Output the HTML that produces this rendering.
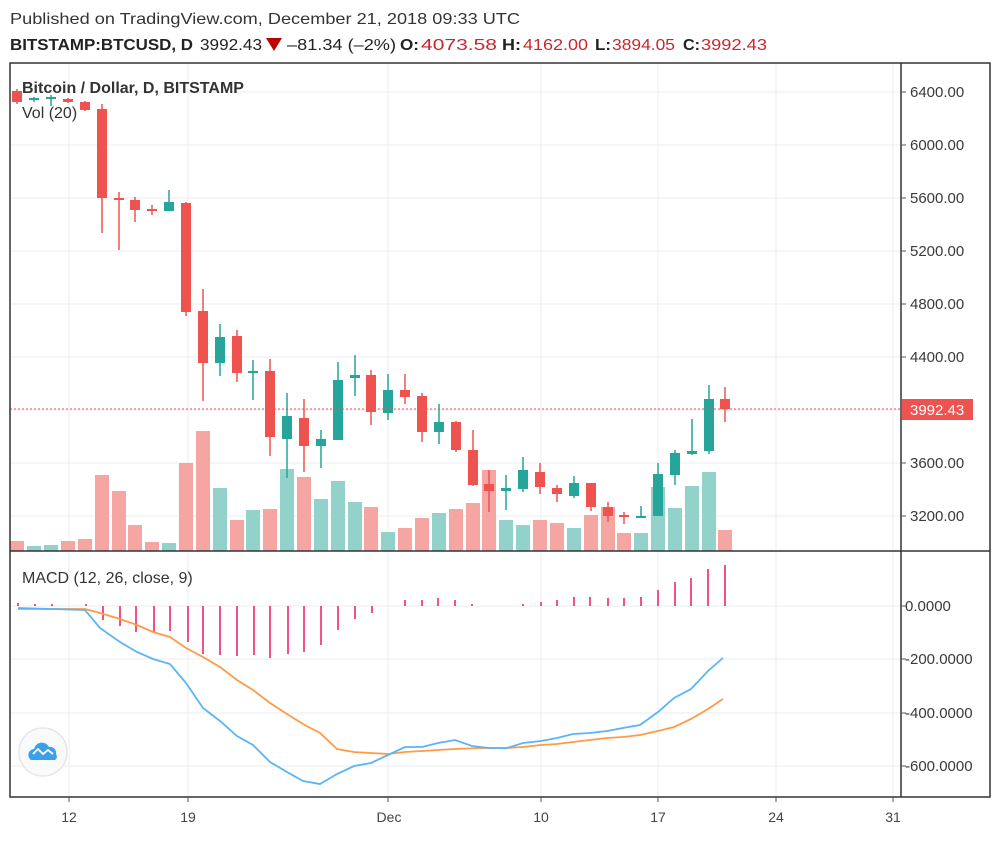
<!DOCTYPE html>
<html><head><meta charset="utf-8"><style>
html,body{margin:0;padding:0;background:#fff;}
svg{display:block;font-family:"Liberation Sans",sans-serif;}
</style></head><body>
<svg width="1000" height="844" viewBox="0 0 1000 844" xmlns="http://www.w3.org/2000/svg">
<rect width="1000" height="844" fill="#fff"/>
<text x="10" y="24" font-size="16" fill="#333" textLength="510" lengthAdjust="spacingAndGlyphs">Published on TradingView.com, December 21, 2018 09:33 UTC</text>
<g font-size="16" fill="#222">
<text x="10" y="50" font-weight="bold" textLength="183" lengthAdjust="spacingAndGlyphs">BITSTAMP:BTCUSD, D</text>
<text x="200" y="50" textLength="62" lengthAdjust="spacingAndGlyphs">3992.43</text>
<polygon points="266,38 282,38 274,51" fill="#b00"/>
<text x="287" y="50" textLength="109" lengthAdjust="spacingAndGlyphs">–81.34 (–2%)</text>
<text x="400" y="50" font-weight="bold" textLength="19" lengthAdjust="spacingAndGlyphs">O:</text>
<text x="421" y="50" fill="#c8282d" textLength="76" lengthAdjust="spacingAndGlyphs">4073.58</text>
<text x="502" y="50" font-weight="bold" textLength="19" lengthAdjust="spacingAndGlyphs">H:</text>
<text x="523" y="50" fill="#c8282d" textLength="65" lengthAdjust="spacingAndGlyphs">4162.00</text>
<text x="595" y="50" font-weight="bold" textLength="16" lengthAdjust="spacingAndGlyphs">L:</text>
<text x="612" y="50" fill="#c8282d" textLength="63" lengthAdjust="spacingAndGlyphs">3894.05</text>
<text x="683" y="50" font-weight="bold" textLength="17" lengthAdjust="spacingAndGlyphs">C:</text>
<text x="701" y="50" fill="#c8282d" textLength="66" lengthAdjust="spacingAndGlyphs">3992.43</text>
</g>
<g stroke="#e8eef4" stroke-width="1">
<line x1="69" y1="63" x2="69" y2="797"/><line x1="188" y1="63" x2="188" y2="797"/><line x1="388" y1="63" x2="388" y2="797"/><line x1="541" y1="63" x2="541" y2="797"/><line x1="658" y1="63" x2="658" y2="797"/><line x1="776" y1="63" x2="776" y2="797"/><line x1="893" y1="63" x2="893" y2="797"/>
<line x1="10" y1="92" x2="901" y2="92"/><line x1="10" y1="145" x2="901" y2="145"/><line x1="10" y1="198" x2="901" y2="198"/><line x1="10" y1="251" x2="901" y2="251"/><line x1="10" y1="304" x2="901" y2="304"/><line x1="10" y1="357" x2="901" y2="357"/><line x1="10" y1="410" x2="901" y2="410"/><line x1="10" y1="463" x2="901" y2="463"/><line x1="10" y1="516" x2="901" y2="516"/>
<line x1="10" y1="606" x2="901" y2="606"/><line x1="10" y1="659" x2="901" y2="659"/><line x1="10" y1="713" x2="901" y2="713"/><line x1="10" y1="766" x2="901" y2="766"/>
</g>
<g>
<rect x="10" y="541" width="14" height="10" fill="#f5a6a3"/>
<rect x="27" y="546" width="14" height="5" fill="#93d2ca"/>
<rect x="44" y="545" width="14" height="6" fill="#93d2ca"/>
<rect x="61" y="541" width="14" height="10" fill="#f5a6a3"/>
<rect x="78" y="539" width="14" height="12" fill="#f5a6a3"/>
<rect x="95" y="475" width="14" height="76" fill="#f5a6a3"/>
<rect x="112" y="491" width="14" height="60" fill="#f5a6a3"/>
<rect x="128" y="525" width="14" height="26" fill="#f5a6a3"/>
<rect x="145" y="542" width="14" height="9" fill="#f5a6a3"/>
<rect x="162" y="543" width="14" height="8" fill="#93d2ca"/>
<rect x="179" y="463" width="14" height="88" fill="#f5a6a3"/>
<rect x="196" y="431" width="14" height="120" fill="#f5a6a3"/>
<rect x="213" y="488" width="14" height="63" fill="#93d2ca"/>
<rect x="230" y="520" width="14" height="31" fill="#f5a6a3"/>
<rect x="246" y="510" width="14" height="41" fill="#93d2ca"/>
<rect x="263" y="509" width="14" height="42" fill="#f5a6a3"/>
<rect x="280" y="469" width="14" height="82" fill="#93d2ca"/>
<rect x="297" y="477" width="14" height="74" fill="#f5a6a3"/>
<rect x="314" y="499" width="14" height="52" fill="#93d2ca"/>
<rect x="331" y="481" width="14" height="70" fill="#93d2ca"/>
<rect x="348" y="502" width="14" height="49" fill="#93d2ca"/>
<rect x="364" y="507" width="14" height="44" fill="#f5a6a3"/>
<rect x="381" y="532" width="14" height="19" fill="#93d2ca"/>
<rect x="398" y="528" width="14" height="23" fill="#f5a6a3"/>
<rect x="415" y="518" width="14" height="33" fill="#f5a6a3"/>
<rect x="432" y="513" width="14" height="38" fill="#93d2ca"/>
<rect x="449" y="509" width="14" height="42" fill="#f5a6a3"/>
<rect x="466" y="503" width="14" height="48" fill="#f5a6a3"/>
<rect x="482" y="470" width="14" height="81" fill="#f5a6a3"/>
<rect x="499" y="520" width="14" height="31" fill="#93d2ca"/>
<rect x="516" y="525" width="14" height="26" fill="#93d2ca"/>
<rect x="533" y="520" width="14" height="31" fill="#f5a6a3"/>
<rect x="550" y="523" width="14" height="28" fill="#f5a6a3"/>
<rect x="567" y="528" width="14" height="23" fill="#93d2ca"/>
<rect x="584" y="515" width="14" height="36" fill="#f5a6a3"/>
<rect x="601" y="507" width="14" height="44" fill="#f5a6a3"/>
<rect x="617" y="533" width="14" height="18" fill="#f5a6a3"/>
<rect x="634" y="533" width="14" height="18" fill="#93d2ca"/>
<rect x="651" y="487" width="14" height="64" fill="#93d2ca"/>
<rect x="668" y="508" width="14" height="43" fill="#93d2ca"/>
<rect x="685" y="486" width="14" height="65" fill="#93d2ca"/>
<rect x="702" y="472" width="14" height="79" fill="#93d2ca"/>
<rect x="718" y="530" width="14" height="21" fill="#f5a6a3"/>
</g>
<g stroke-width="1.5">
<g stroke="#ef5350" fill="#ef5350">
<line x1="17" y1="89" x2="17" y2="104"/><rect x="12" y="91" width="10" height="11" stroke="none"/>
<line x1="68" y1="98" x2="68" y2="103"/><rect x="63" y="99" width="10" height="3" stroke="none"/>
<line x1="85" y1="101" x2="85" y2="111"/><rect x="80" y="102" width="10" height="8" stroke="none"/>
<line x1="102" y1="104" x2="102" y2="233"/><rect x="97" y="109" width="10" height="89" stroke="none"/>
<line x1="119" y1="192" x2="119" y2="250"/><rect x="114" y="198" width="10" height="2" stroke="none"/>
<line x1="135" y1="197" x2="135" y2="222"/><rect x="130" y="200" width="10" height="10" stroke="none"/>
<line x1="152" y1="205" x2="152" y2="215"/><rect x="147" y="209" width="10" height="2" stroke="none"/>
<line x1="186" y1="202" x2="186" y2="316"/><rect x="181" y="203" width="10" height="109" stroke="none"/>
<line x1="203" y1="289" x2="203" y2="401"/><rect x="198" y="311" width="10" height="52" stroke="none"/>
<line x1="237" y1="330" x2="237" y2="382"/><rect x="232" y="336" width="10" height="37" stroke="none"/>
<line x1="270" y1="359" x2="270" y2="456"/><rect x="265" y="371" width="10" height="66" stroke="none"/>
<line x1="304" y1="399" x2="304" y2="472"/><rect x="299" y="418" width="10" height="28" stroke="none"/>
<line x1="371" y1="370" x2="371" y2="425"/><rect x="366" y="375" width="10" height="37" stroke="none"/>
<line x1="405" y1="374" x2="405" y2="404"/><rect x="400" y="390" width="10" height="7" stroke="none"/>
<line x1="422" y1="393" x2="422" y2="442"/><rect x="417" y="396" width="10" height="36" stroke="none"/>
<line x1="456" y1="421" x2="456" y2="452"/><rect x="451" y="422" width="10" height="28" stroke="none"/>
<line x1="473" y1="430" x2="473" y2="486"/><rect x="468" y="450" width="10" height="35" stroke="none"/>
<line x1="489" y1="470" x2="489" y2="512"/><rect x="484" y="484" width="10" height="7" stroke="none"/>
<line x1="540" y1="463" x2="540" y2="494"/><rect x="535" y="472" width="10" height="15" stroke="none"/>
<line x1="557" y1="485" x2="557" y2="502"/><rect x="552" y="488" width="10" height="6" stroke="none"/>
<line x1="591" y1="483" x2="591" y2="511"/><rect x="586" y="483" width="10" height="24" stroke="none"/>
<line x1="608" y1="502" x2="608" y2="522"/><rect x="603" y="507" width="10" height="9" stroke="none"/>
<line x1="624" y1="512" x2="624" y2="524"/><rect x="619" y="515" width="10" height="2" stroke="none"/>
<line x1="725" y1="387" x2="725" y2="422"/><rect x="720" y="399" width="10" height="10" stroke="none"/>
</g>
<g stroke="#26a69a" fill="#26a69a">
<line x1="34" y1="97" x2="34" y2="102"/><rect x="29" y="98" width="10" height="2" stroke="none"/>
<line x1="51" y1="95" x2="51" y2="106"/><rect x="46" y="97" width="10" height="2" stroke="none"/>
<line x1="169" y1="190" x2="169" y2="211"/><rect x="164" y="202" width="10" height="9" stroke="none"/>
<line x1="220" y1="324" x2="220" y2="376"/><rect x="215" y="337" width="10" height="26" stroke="none"/>
<line x1="253" y1="360" x2="253" y2="400"/><rect x="248" y="371" width="10" height="2" stroke="none"/>
<line x1="287" y1="393" x2="287" y2="478"/><rect x="282" y="416" width="10" height="23" stroke="none"/>
<line x1="321" y1="430" x2="321" y2="468"/><rect x="316" y="439" width="10" height="7" stroke="none"/>
<line x1="338" y1="362" x2="338" y2="440"/><rect x="333" y="380" width="10" height="60" stroke="none"/>
<line x1="355" y1="355" x2="355" y2="396"/><rect x="350" y="375" width="10" height="3" stroke="none"/>
<line x1="388" y1="374" x2="388" y2="420"/><rect x="383" y="390" width="10" height="23" stroke="none"/>
<line x1="439" y1="404" x2="439" y2="444"/><rect x="434" y="422" width="10" height="10" stroke="none"/>
<line x1="506" y1="475" x2="506" y2="510"/><rect x="501" y="488" width="10" height="3" stroke="none"/>
<line x1="523" y1="457" x2="523" y2="492"/><rect x="518" y="470" width="10" height="19" stroke="none"/>
<line x1="574" y1="476" x2="574" y2="498"/><rect x="569" y="483" width="10" height="13" stroke="none"/>
<line x1="641" y1="506" x2="641" y2="518"/><rect x="636" y="516" width="10" height="2" stroke="none"/>
<line x1="658" y1="463" x2="658" y2="516"/><rect x="653" y="474" width="10" height="42" stroke="none"/>
<line x1="675" y1="450" x2="675" y2="485"/><rect x="670" y="453" width="10" height="22" stroke="none"/>
<line x1="692" y1="419" x2="692" y2="455"/><rect x="687" y="451" width="10" height="3" stroke="none"/>
<line x1="709" y1="385" x2="709" y2="454"/><rect x="704" y="399" width="10" height="52" stroke="none"/>
</g>
</g>
<line x1="10" y1="409" x2="901" y2="409" stroke="#ef5350" stroke-width="1" stroke-dasharray="2,2"/>
<text x="22" y="93" font-size="16" fill="#333" font-weight="bold">Bitcoin / Dollar, D, BITSTAMP</text>
<text x="22" y="118" font-size="16" fill="#333">Vol (20)</text>
<text x="22" y="583" font-size="16" fill="#333">MACD (12, 26, close, 9)</text>
<g stroke="#f0256e" stroke-width="1.6">
<line x1="18" y1="603" x2="18" y2="606"/><line x1="35" y1="604" x2="35" y2="606"/><line x1="52" y1="604" x2="52" y2="606"/><line x1="86" y1="604" x2="86" y2="606"/>
<line x1="103" y1="606" x2="103" y2="620"/><line x1="120" y1="606" x2="120" y2="626"/><line x1="136" y1="606" x2="136" y2="632"/><line x1="154" y1="606" x2="154" y2="633"/><line x1="170" y1="606" x2="170" y2="631"/><line x1="188" y1="606" x2="188" y2="642"/><line x1="203" y1="606" x2="203" y2="654"/><line x1="220" y1="606" x2="220" y2="655"/><line x1="237" y1="606" x2="237" y2="656"/><line x1="254" y1="606" x2="254" y2="655"/><line x1="270" y1="606" x2="270" y2="658"/><line x1="288" y1="606" x2="288" y2="654"/><line x1="304" y1="606" x2="304" y2="652"/><line x1="321" y1="606" x2="321" y2="645"/><line x1="338" y1="606" x2="338" y2="630"/><line x1="355" y1="606" x2="355" y2="619"/><line x1="372" y1="606" x2="372" y2="613"/>
<line x1="405" y1="606" x2="405" y2="600"/><line x1="422" y1="606" x2="422" y2="600"/><line x1="438" y1="606" x2="438" y2="598"/><line x1="455" y1="606" x2="455" y2="600"/><line x1="472" y1="606" x2="472" y2="604"/><line x1="523" y1="606" x2="523" y2="604"/><line x1="541" y1="606" x2="541" y2="602"/><line x1="557" y1="606" x2="557" y2="600"/><line x1="574" y1="606" x2="574" y2="597"/><line x1="590" y1="606" x2="590" y2="597"/><line x1="608" y1="606" x2="608" y2="598"/><line x1="624" y1="606" x2="624" y2="598"/><line x1="641" y1="606" x2="641" y2="597"/><line x1="658" y1="606" x2="658" y2="590"/><line x1="675" y1="606" x2="675" y2="582"/><line x1="691" y1="606" x2="691" y2="578"/><line x1="708" y1="606" x2="708" y2="569"/><line x1="725" y1="606" x2="725" y2="565"/>
</g>
<polyline fill="none" stroke="#ff9a45" stroke-width="1.8" points="18,609 85,609 100,613 120,619 137,625 153,632 170,637 186,648 203,657 220,667 237,680 253,690 270,703 287,714 303,724 320,733 337,749 354,752 371,753 388,754 405,752 422,751 438,750 455,749 480,748 507,748 523,747 541,745 557,744 573,742 590,740 607,738 623,737 640,735 658,731 674,727 691,719 708,709 723,699"/>
<polyline fill="none" stroke="#5ab4f5" stroke-width="1.8" points="18,608 85,610 100,628 120,642 137,652 153,659 170,664 186,683 203,708 220,721 237,736 253,745 270,762 287,772 303,781 320,784 337,774 354,766 371,763 388,755 405,747 422,747 438,743 455,740 472,746 489,748 507,748 523,743 541,741 557,738 573,734 590,733 607,731 623,728 640,725 658,712 674,698 691,689 708,671 723,658"/>
<circle cx="43" cy="752" r="24" fill="#fafafa" stroke="#e6e6e6" stroke-width="1.5"/>
<path d="M31,760 a6,6 0 0 1 3,-11 a8,8 0 0 1 15,-2 a6,6 0 0 1 7,7 a4,4 0 0 1 -1,6 z" fill="#3aa1e8"/>
<path d="M33,754 l5,-5 l5,5 l5,-4 l5,4" fill="none" stroke="#fff" stroke-width="1.8"/>
<g stroke="#333" stroke-width="1.5" fill="none">
<rect x="10" y="63" width="980" height="734"/>
<line x1="901" y1="63" x2="901" y2="797"/>
<line x1="10" y1="551" x2="990" y2="551"/>
</g>
<g stroke="#555" stroke-width="1">
<line x1="901" y1="92" x2="906" y2="92"/><line x1="901" y1="145" x2="906" y2="145"/><line x1="901" y1="198" x2="906" y2="198"/><line x1="901" y1="251" x2="906" y2="251"/><line x1="901" y1="304" x2="906" y2="304"/><line x1="901" y1="357" x2="906" y2="357"/><line x1="901" y1="463" x2="906" y2="463"/><line x1="901" y1="516" x2="906" y2="516"/>
<line x1="901" y1="606" x2="906" y2="606"/><line x1="901" y1="659" x2="906" y2="659"/><line x1="901" y1="713" x2="906" y2="713"/><line x1="901" y1="766" x2="906" y2="766"/>
<line x1="69" y1="797" x2="69" y2="802"/><line x1="188" y1="797" x2="188" y2="802"/><line x1="388" y1="797" x2="388" y2="802"/><line x1="541" y1="797" x2="541" y2="802"/><line x1="658" y1="797" x2="658" y2="802"/><line x1="776" y1="797" x2="776" y2="802"/><line x1="893" y1="797" x2="893" y2="802"/>
</g>
<g font-size="15" fill="#3a3a3a">
<text x="910" y="97">6400.00</text><text x="910" y="150">6000.00</text><text x="910" y="203">5600.00</text><text x="910" y="256">5200.00</text><text x="910" y="309">4800.00</text><text x="910" y="362">4400.00</text><text x="910" y="468">3600.00</text><text x="910" y="521">3200.00</text>
<text x="905" y="611">0.0000</text><text x="905" y="664">-200.0000</text><text x="905" y="718">-400.0000</text><text x="905" y="771">-600.0000</text>
</g>
<rect x="902" y="399" width="71" height="21" fill="#ef5350"/>
<text x="910" y="415" font-size="15" fill="#fff">3992.43</text>
<g font-size="14" fill="#444" text-anchor="middle">
<text x="69" y="822">12</text><text x="188" y="822">19</text><text x="389" y="822">Dec</text><text x="541" y="822">10</text><text x="658" y="822">17</text><text x="776" y="822">24</text><text x="893" y="822">31</text>
</g>
</svg>
</body></html>
